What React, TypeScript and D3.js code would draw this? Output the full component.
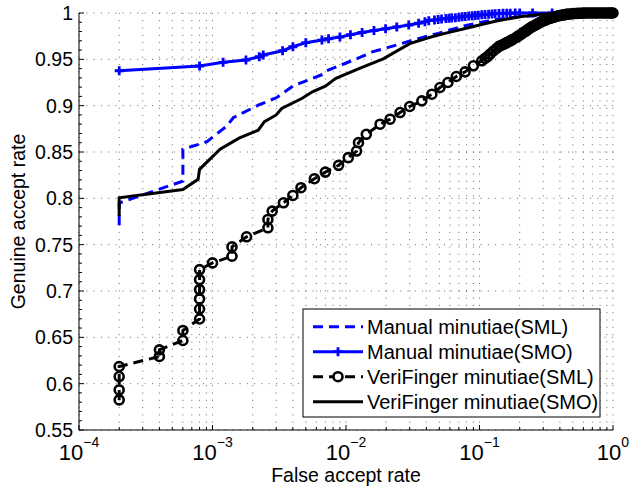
import React from 'react';
import * as d3 from 'd3';

// ---------- data ----------
const manualSmlX = [2e-4, 2e-4, 6e-4, 6e-4, 9.05e-4, 1.28e-3, 1.43e-3, 2.2e-3, 3.03e-3, 4.03e-3, 6.76e-3, 7.17e-3, 1.27e-2, 1.57e-2, 2.4e-2, 3.3e-2, 4.9e-2, 7.4e-2, 9.5e-2, 0.12, 0.2, 0.4, 1];
const manualSmlY = [0.771, 0.795, 0.8186, 0.853, 0.861, 0.878, 0.887, 0.9005, 0.9088, 0.9214, 0.934, 0.9376, 0.952, 0.958, 0.9655, 0.9715, 0.978, 0.9855, 0.989, 0.992, 0.996, 0.999, 1];

const manualSmoX = [2e-4, 8e-4, 1.2e-3, 1.78e-3, 2.24e-3, 2.4e-3, 3.35e-3, 4.0e-3, 5.0e-3, 6.6e-3, 7.4e-3, 9.0e-3, 1.08e-2, 1.32e-2, 1.62e-2, 1.98e-2, 2.4e-2, 2.95e-2, 3.5e-2, 3.9e-2, 4.17e-2, 4.6e-2, 4.9e-2, 5.2e-2, 5.6e-2, 5.9e-2, 6.2e-2, 6.6e-2, 7.0e-2, 7.4e-2, 7.8e-2, 8.3e-2, 8.8e-2, 9.3e-2, 0.098, 0.104, 0.11, 0.117, 0.124, 0.131, 0.14, 0.15, 0.16, 0.17, 0.185, 0.2, 0.25, 0.35, 0.5, 0.7, 1];
const manualSmoY = [0.9377, 0.9428, 0.9468, 0.9493, 0.9528, 0.9547, 0.9593, 0.9636, 0.968, 0.9708, 0.9722, 0.974, 0.9766, 0.979, 0.981, 0.983, 0.985, 0.987, 0.989, 0.9905, 0.9917, 0.9925, 0.993, 0.9935, 0.994, 0.9943, 0.9947, 0.995, 0.9955, 0.996, 0.9963, 0.9967, 0.997, 0.9973, 0.9977, 0.998, 0.9984, 0.9987, 0.999, 0.9993, 0.9995, 0.9996, 0.9997, 0.9998, 0.9999, 0.9999, 1, 1, 1, 1, 1];

const veriSmlX = [2e-4, 2e-4, 2e-4, 2e-4, 4e-4, 4e-4, 6e-4, 6e-4, 8e-4, 8e-4, 8e-4, 8e-4, 8e-4, 8e-4, 1e-3, 1.4e-3, 1.4e-3, 1.8e-3, 2.6e-3, 2.6e-3, 2.8e-3, 3.4e-3, 4.0e-3, 4.6e-3, 5.8e-3, 7.0e-3, 8.8e-3, 1.04e-2, 1.2e-2, 1.24e-2, 1.42e-2, 1.8e-2, 2.14e-2, 2.54e-2, 3.0e-2, 3.7e-2, 4.4e-2, 5.06e-2, 5.8e-2, 6.7e-2, 7.8e-2, 9.0e-2, 0.104, 0.11, 0.115, 0.12, 0.127, 0.135, 0.14, 0.145, 0.15, 0.155, 0.16, 0.165, 0.17, 0.175, 0.18, 0.19, 0.195, 0.2, 0.207, 0.213, 0.22, 0.225, 0.232, 0.24, 0.247, 0.255, 0.262, 0.27, 0.277, 0.284, 0.292, 0.3, 0.31, 0.32, 0.33, 0.34, 0.35, 0.36, 0.37, 0.378, 0.39, 0.4, 0.415, 0.43, 0.445, 0.46, 0.48, 0.5, 0.52, 0.54, 0.56, 0.58, 0.6, 0.62, 0.645, 0.67, 0.695, 0.72, 0.745, 0.77, 0.8, 0.83, 0.86, 0.89, 0.92, 0.95, 0.975, 1];
const veriSmlY = [0.5825, 0.5933, 0.6077, 0.6185, 0.6293, 0.6365, 0.6466, 0.6574, 0.6698, 0.6806, 0.6914, 0.7015, 0.7123, 0.7231, 0.7303, 0.7375, 0.7476, 0.7585, 0.7682, 0.7772, 0.7862, 0.7952, 0.8031, 0.8115, 0.8212, 0.8283, 0.8356, 0.8439, 0.851, 0.8601, 0.8691, 0.880, 0.8854, 0.8926, 0.8991, 0.9052, 0.9124, 0.9196, 0.925, 0.9315, 0.9365, 0.943, 0.9484, 0.951, 0.953, 0.9557, 0.959, 0.962, 0.964, 0.965, 0.966, 0.967, 0.968, 0.969, 0.970, 0.971, 0.972, 0.974, 0.975, 0.976, 0.9775, 0.979, 0.980, 0.981, 0.9825, 0.984, 0.985, 0.986, 0.987, 0.988, 0.989, 0.990, 0.991, 0.9915, 0.992, 0.993, 0.994, 0.9945, 0.995, 0.9955, 0.996, 0.9965, 0.997, 0.9973, 0.9977, 0.998, 0.9985, 0.9988, 0.999, 0.9993, 0.9995, 0.9996, 0.9997, 0.9998, 0.9999, 1, 1, 1, 1, 1, 1, 1, 1, 1, 1, 1, 1, 1, 1, 1];

const veriSmoX = [2e-4, 2e-4, 6e-4, 7.8e-4, 8e-4, 1.14e-3, 1.58e-3, 2.2e-3, 2.45e-3, 3.0e-3, 3.3e-3, 4.7e-3, 5.6e-3, 7.0e-3, 8.4e-3, 1.25e-2, 1.9e-2, 3.0e-2, 4.2e-2, 5.5e-2, 7.4e-2, 0.1, 0.131, 0.2, 0.3, 0.5, 1];
const veriSmoY = [0.781, 0.8005, 0.8096, 0.8205, 0.8313, 0.853, 0.865, 0.8735, 0.8827, 0.890, 0.897, 0.908, 0.915, 0.921, 0.9295, 0.940, 0.9505, 0.967, 0.9735, 0.978, 0.9825, 0.987, 0.991, 0.996, 0.999, 1, 1];

const seriesNames = ['Manual minutiae(SML)', 'Manual minutiae(SMO)', 'VeriFinger minutiae(SML)', 'VeriFinger minutiae(SMO)'];

const xMajorTicks = [1e-4, 1e-3, 1e-2, 1e-1, 1];
const xTickExponents = ['\u22124', '\u22123', '\u22122', '\u22121', '0'];
const yMajorTicks = [0.55, 0.6, 0.65, 0.7, 0.75, 0.8, 0.85, 0.9, 0.95, 1];
const yTickLabels = ['0.55', '0.6', '0.65', '0.7', '0.75', '0.8', '0.85', '0.9', '0.95', '1'];

const xLabel = 'False accept rate';
const yLabel = 'Genuine accept rate';

const FONT = "'Liberation Sans', Arial, Helvetica, sans-serif";
const BLUE = '#0000ff';

export default function App() {
  const W = 630, H = 490;
  const L = 79, R = 613, T = 13, B = 430;
  const x = d3.scaleLog().domain([1e-4, 1]).range([L, R]);
  const y = d3.scaleLinear().domain([0.55, 1]).range([B, T]);
  const mk = (xs: number[], ys: number[]) =>
    d3.line<number>().x((i) => x(xs[i])).y((i) => y(ys[i]))(d3.range(xs.length)) || '';

  const xMinor: number[] = [];
  for (let e = -4; e < 0; e++) for (let k = 2; k <= 9; k++) xMinor.push(k * Math.pow(10, e));
  const yMinor = d3.range(55, 101).map((v) => v / 100).filter((v) => Math.round(v * 100) % 5 !== 0);

  const gridStyle = { stroke: '#000', strokeOpacity: 0.6, strokeWidth: 1, strokeDasharray: '1 6.3' } as const;

  const plus = (cx: number, cy: number, key: any, s = 4.5) => (
    <path key={key} d={`M${cx - s},${cy}H${cx + s}M${cx},${cy - s}V${cy + s}`} stroke={BLUE} strokeWidth={2.8} fill="none" />
  );

  const legX0 = 303, legY0 = 309, legW = 297, legH = 108;
  const rowY = [326.7, 351.7, 376.7, 401.7];
  const sx0 = 313, sx1 = 363, sxm = 338;

  return (
    <svg width={W} height={H} style={{ position: 'absolute', left: 0, top: 0, background: '#fff' }} fontFamily={FONT}>
      <rect x={0} y={0} width={W} height={H} fill="#fff" />
      {/* grid */}
      {xMajorTicks.concat(xMinor).map((v, i) => (
        <line key={'gx' + i} x1={x(v)} x2={x(v)} y1={B} y2={T} {...gridStyle} />
      ))}
      {yMajorTicks.map((v, i) => (
        <line key={'gy' + i} x1={L} x2={R} y1={y(v)} y2={y(v)} {...gridStyle} />
      ))}

      {/* series */}
      <path d={mk(manualSmlX, manualSmlY)} fill="none" stroke={BLUE} strokeWidth={3} strokeDasharray="10 6" />
      <path d={mk(manualSmoX, manualSmoY)} fill="none" stroke={BLUE} strokeWidth={3} />
      {manualSmoX.map((v, i) => plus(x(v), y(manualSmoY[i]), 'p' + i))}
      <path d={mk(veriSmlX, veriSmlY)} fill="none" stroke="#000" strokeWidth={3} strokeDasharray="10 6" />
      {veriSmlX.map((v, i) => (
        <circle key={'c' + i} cx={x(v)} cy={y(veriSmlY[i])} r={4.5} fill="none" stroke="#000" strokeWidth={2.6} />
      ))}
      <path d={mk(veriSmoX, veriSmoY)} fill="none" stroke="#000" strokeWidth={3} />

      {/* axes */}
      <line x1={L} x2={L} y1={T} y2={B} stroke="#000" strokeWidth={1} />
      <line x1={L} x2={R} y1={B} y2={B} stroke="#000" strokeWidth={1} />
      {xMajorTicks.map((v, i) => (
        <line key={'xt' + i} x1={x(v)} x2={x(v)} y1={B} y2={B - 5} stroke="#000" />
      ))}
      {xMinor.map((v, i) => (
        <line key={'xm' + i} x1={x(v)} x2={x(v)} y1={B} y2={B - 3} stroke="#000" />
      ))}
      {yMajorTicks.map((v, i) => (
        <line key={'yt' + i} x1={L} x2={L + 5} y1={y(v)} y2={y(v)} stroke="#000" />
      ))}
      {yMinor.map((v, i) => (
        <line key={'ym' + i} x1={L} x2={L + 3} y1={y(v)} y2={y(v)} stroke="#000" />
      ))}

      {/* tick labels */}
      {yMajorTicks.map((v, i) => (
        <text key={'yl' + i} x={73} y={y(v) + 7} textAnchor="end" fontSize={19.5} fill="#000">{yTickLabels[i]}</text>
      ))}
      {xMajorTicks.map((v, i) => (
        <text key={'xl' + i} x={x(v)} y={460} textAnchor="middle" fill="#000">
          <tspan fontSize={22}>10</tspan>
          <tspan fontSize={14} dy={-13}>{xTickExponents[i]}</tspan>
        </text>
      ))}

      {/* axis labels */}
      <text x={(L + R) / 2} y={482} textAnchor="middle" fontSize={19.5} fill="#000">{xLabel}</text>
      <text transform={`translate(25,${(T + B) / 2}) rotate(-90)`} textAnchor="middle" fontSize={19.5} fill="#000">{yLabel}</text>

      {/* legend */}
      <rect x={legX0} y={legY0} width={legW} height={legH} fill="#fff" stroke="#000" strokeWidth={1} />
      <line x1={sx0} x2={sx1} y1={rowY[0]} y2={rowY[0]} stroke={BLUE} strokeWidth={3} strokeDasharray="10 6" />
      <line x1={sx0} x2={sx1} y1={rowY[1]} y2={rowY[1]} stroke={BLUE} strokeWidth={3} />
      {plus(sxm, rowY[1], 'lp')}
      <line x1={sx0} x2={sx1} y1={rowY[2]} y2={rowY[2]} stroke="#000" strokeWidth={3} strokeDasharray="10 6" />
      <circle cx={sxm} cy={rowY[2]} r={4.5} fill="#fff" stroke="#000" strokeWidth={2.6} />
      <line x1={sx0} x2={sx1} y1={rowY[3]} y2={rowY[3]} stroke="#000" strokeWidth={3} />
      {seriesNames.map((n, i) => (
        <text key={'ln' + i} x={367} y={rowY[i] + 7} fontSize={20} fill="#000">{n}</text>
      ))}
    </svg>
  );
}
